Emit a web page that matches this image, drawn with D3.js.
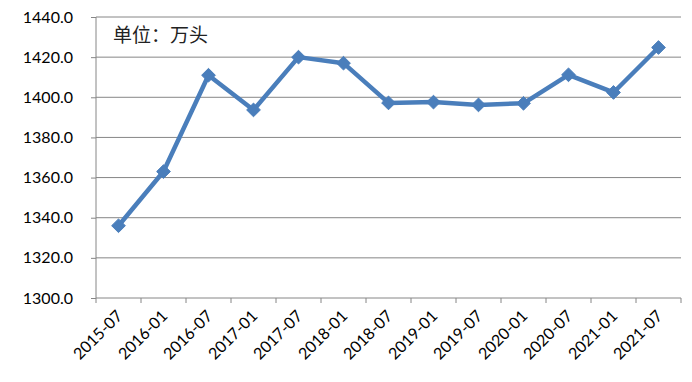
<!DOCTYPE html>
<html>
<head>
<meta charset="utf-8">
<script src="https://cdn.jsdelivr.net/npm/d3@7"></script>
<style>
  body { margin: 0; background: #fff; }
  .axis text { font-family: Lato, "Liberation Sans", sans-serif; font-size: 16px; fill: #000; }
  .axis path, .axis line { stroke: #868686; }
</style>
</head>
<body>
<div id="chart"></div>
<script>
var categories = ['2015-07','2016-01','2016-07','2017-01','2017-07','2018-01','2018-07',
                  '2019-01','2019-07','2020-01','2020-07','2021-01','2021-07'];
var values = [1336, 1363, 1411, 1393.7, 1420, 1417, 1397.2, 1397.6, 1396.2, 1397, 1411.2, 1402.4, 1424.8];
var yTicks = [1300, 1320, 1340, 1360, 1380, 1400, 1420, 1440];
var unitLabel = '单位：万头';

var width = 692, height = 382;
var margin = {top: 17, right: 11, bottom: 84, left: 96};

var svg = d3.select('#chart').append('svg')
    .attr('width', width)
    .attr('height', height);

var x = d3.scaleBand()
    .domain(categories)
    .range([margin.left, width - margin.right]);

var y = d3.scaleLinear()
    .domain([1300, 1440])
    .range([height - margin.bottom, margin.top]);

// gridlines
svg.append('g')
    .selectAll('line')
    .data(yTicks.slice(1))
    .enter().append('line')
    .attr('x1', margin.left)
    .attr('x2', width - margin.right)
    .attr('y1', function(d){ return y(d); })
    .attr('y2', function(d){ return y(d); })
    .attr('stroke', '#868686')
    .attr('stroke-width', 1);

var yAxis = d3.axisLeft(y)
    .tickValues(yTicks)
    .tickFormat(d3.format('.1f'))
    .tickSize(5)
    .tickPadding(18);

svg.append('g')
    .attr('class', 'axis')
    .attr('transform', 'translate(' + margin.left + ',0)')
    .call(yAxis)
    .call(function(g){ g.select('.domain').attr('d', 'M0,' + y(1300) + 'V' + y(1440)); });

// x axis: ticks on category boundaries
var xg = svg.append('g')
    .attr('class', 'axis')
    .attr('transform', 'translate(0,' + y(1300) + ')');

xg.append('line')
    .attr('x1', margin.left).attr('x2', width - margin.right)
    .attr('y1', 0).attr('y2', 0);

var bounds = categories.map(function(c){ return x(c); }).concat([x(categories[categories.length-1]) + x.bandwidth()]);
xg.selectAll('.tk')
    .data(bounds)
    .enter().append('line')
    .attr('class', 'tk')
    .attr('x1', function(d){ return d; }).attr('x2', function(d){ return d; })
    .attr('y1', 0).attr('y2', 5);

xg.selectAll('.lbl')
    .data(categories)
    .enter().append('text')
    .attr('class', 'lbl')
    .attr('text-anchor', 'end')
    .attr('transform', function(d){
        return 'translate(' + (x(d) + x.bandwidth()/2 + 5) + ',19) rotate(-45)';
    })
    .text(function(d){ return d; });

// line
var line = d3.line()
    .x(function(d, i){ return x(categories[i]) + x.bandwidth()/2; })
    .y(function(d){ return y(d); });

svg.append('path')
    .datum(values)
    .attr('d', line)
    .attr('fill', 'none')
    .attr('stroke', '#4a7ebb')
    .attr('stroke-width', 4.5)
    .attr('stroke-linejoin', 'round');

svg.append('g')
    .selectAll('path')
    .data(values)
    .enter().append('path')
    .attr('d', d3.symbol().type(d3.symbolDiamond2).size(120))
    .attr('transform', function(d, i){
        return 'translate(' + (x(categories[i]) + x.bandwidth()/2) + ',' + y(d) + ')';
    })
    .attr('fill', '#4a7ebb')
    .attr('stroke', '#4a7ebb')
    .attr('stroke-width', 1);

svg.append('text')
    .attr('x', 113)
    .attr('y', 42)
    .attr('font-family', '"Noto Sans CJK SC", sans-serif')
    .attr('font-size', 19)
    .attr('fill', '#222')
    .text(unitLabel);
</script>
</body>
</html>
